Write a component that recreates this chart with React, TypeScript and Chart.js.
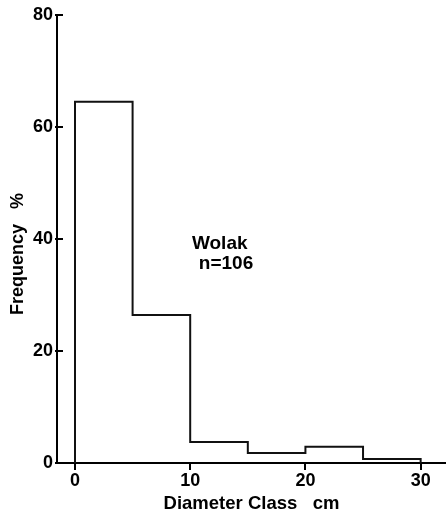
import React, { useEffect, useRef } from "react";
import { Chart, registerables } from "chart.js";

Chart.register(...registerables);

// Histogram data
const classEdges = [0, 5, 10, 15, 20, 25, 30];
const frequency = [64.5, 26.4, 3.75, 1.8, 2.9, 0.7];
const xTickValues = [0, 10, 20, 30];
const yTickValues = [0, 20, 40, 60, 80];
const annotationLines = ["Wolak", "n=106"];

const FONT_FAMILY = "'Liberation Sans', Arial, Helvetica, sans-serif";

export default function App() {
  const canvasRef = useRef<HTMLCanvasElement | null>(null);

  useEffect(() => {
    if (!canvasRef.current) return;

    const outline: { x: number; y: number }[] = [{ x: classEdges[0], y: 0 }];
    frequency.forEach((f, i) => {
      outline.push({ x: classEdges[i], y: f });
      outline.push({ x: classEdges[i + 1], y: f });
    });
    outline.push({ x: classEdges[classEdges.length - 1], y: 0 });

    const inwardTicks = {
      id: "inwardTicks",
      afterDraw(chart: any) {
        const ctx = chart.ctx;
        const y = chart.scales.y;
        const x = chart.scales.x;
        ctx.save();
        ctx.strokeStyle = "#000";
        ctx.lineWidth = 2;
        yTickValues.forEach((v) => {
          const py = Math.round(y.getPixelForValue(v));
          ctx.beginPath();
          ctx.moveTo(chart.chartArea.left - 2, py);
          ctx.lineTo(chart.chartArea.left + 6, py);
          ctx.stroke();
        });
        ctx.fillStyle = "#000";
        ctx.font = `bold 19px ${FONT_FAMILY}`;
        ctx.textBaseline = "alphabetic";
        ctx.textAlign = "left";
        ctx.fillText(annotationLines[0], x.getPixelForValue(10.15), y.getPixelForValue(38.2));
        ctx.fillText(annotationLines[1], x.getPixelForValue(10.75), y.getPixelForValue(34.6));
        ctx.restore();
      },
    };

    const chart = new Chart(canvasRef.current, {
      type: "scatter",
      data: {
        datasets: [
          {
            data: outline,
            showLine: true,
            borderColor: "#111",
            borderWidth: 2,
            pointRadius: 0,
            fill: false,
          },
        ],
      },
      options: {
        animation: false,
        responsive: true,
        maintainAspectRatio: false,
        layout: { padding: { top: 6, right: 0, left: 0, bottom: 0 } },
        plugins: {
          legend: { display: false },
          tooltip: { enabled: false },
        },
        scales: {
          x: {
            type: "linear",
            min: -1.56,
            max: 32.2,
            afterBuildTicks: (scale: any) => {
              scale.ticks = xTickValues.map((v) => ({ value: v }));
            },
            afterFit: (scale: any) => {
              scale.height = 52;
            },
            border: { display: true, color: "#000", width: 2 },
            grid: {
              drawOnChartArea: false,
              drawTicks: true,
              tickLength: 7,
              color: "#000",
              lineWidth: 2,
            },
            ticks: {
              color: "#000",
              padding: 0,
              font: { family: FONT_FAMILY, size: 18, weight: "bold" },
            },
            title: {
              display: true,
              text: "Diameter Class   cm",
              color: "#000",
              padding: { top: 0, bottom: 0 },
              font: { family: FONT_FAMILY, size: 18.5, weight: "bold" },
            },
          },
          y: {
            type: "linear",
            min: 0,
            max: 80,
            afterBuildTicks: (scale: any) => {
              scale.ticks = yTickValues.map((v) => ({ value: v }));
            },
            afterFit: (scale: any) => {
              scale.width = 57;
            },
            border: { display: true, color: "#000", width: 2 },
            grid: {
              drawOnChartArea: false,
              drawTicks: false,
            },
            ticks: {
              color: "#000",
              padding: 4,
              font: { family: FONT_FAMILY, size: 18, weight: "bold" },
            },
            title: {
              display: true,
              text: "Frequency   %      ",
              color: "#000",
              padding: { top: 7, bottom: 0 },
              font: { family: FONT_FAMILY, size: 18, weight: "bold" },
            },
          },
        },
      },
      plugins: [inwardTicks],
    } as any);

    return () => chart.destroy();
  }, []);

  return (
    <div style={{ position: "fixed", left: 0, top: 0, width: 446, height: 515, background: "#fff" }}>
      <canvas ref={canvasRef} />
    </div>
  );
}
